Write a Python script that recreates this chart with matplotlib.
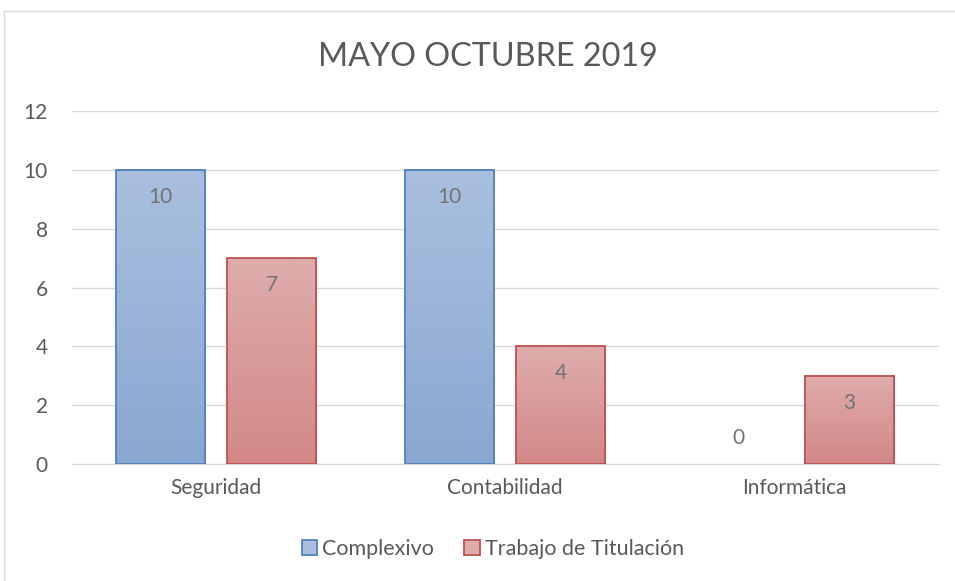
import numpy as np
import matplotlib
matplotlib.use('Agg')
import matplotlib.pyplot as plt
from matplotlib.patches import Rectangle
from matplotlib.colors import LinearSegmentedColormap

categories = ["Seguridad", "Contabilidad", "Informática"]
complexivo = [10, 10, 0]
titulacion = [7, 4, 3]
series_names = ["Complexivo", "Trabajo de Titulación"]

plt.rcParams['font.family'] = ['Lato', 'DejaVu Sans']
TXT = "#595959"
LBL = "#737373"

fig = plt.figure(figsize=(9.55, 5.81), dpi=100)
# outer chart border
fig.patches.append(Rectangle((4 / 955, -0.05), 1.1, (581 - 11) / 581 + 0.05,
                             transform=fig.transFigure, fill=False,
                             edgecolor="#d9d9d9", linewidth=1))
ax = fig.add_axes([71.5 / 955, 1 - 464 / 581, 867 / 955, 353 / 581])

x = np.arange(len(categories))
w = 0.308
off = 0.192

styles = [
    ("#4F81BD", ["#8AA7D2", "#AABFDE"]),
    ("#C0504D", ["#D38888", "#DFACAC"]),
]

for vals, dx, (edge, grad) in zip([complexivo, titulacion], [-off, off], styles):
    cmap = LinearSegmentedColormap.from_list("g", grad)
    for xi, v in zip(x, vals):
        if v <= 0:
            continue
        left = xi + dx - w / 2
        img = np.linspace(0, 1, 100).reshape(-1, 1)
        ax.imshow(img, cmap=cmap, origin='lower', aspect='auto',
                  extent=[left, left + w, 0, v], zorder=2)
        ax.add_patch(Rectangle((left, 0), w, v, fill=False, edgecolor=edge,
                               linewidth=1.3, zorder=3))

for vals, dx in zip([complexivo, titulacion], [-off, off]):
    for xi, v in zip(x, vals):
        if v > 0:
            ax.text(xi + dx, v - 0.92, str(v), ha='center', va='center',
                    fontsize=15, color=LBL, zorder=4)
        else:
            ax.text(xi + dx, v + 0.88, str(v), ha='center', va='center',
                    fontsize=15, color=LBL, zorder=4)

ax.set_xlim(-0.5, 2.5)
ax.set_ylim(0, 12)
ax.set_yticks(range(0, 13, 2))
ax.set_xticks(x)
ax.set_xticklabels(categories)
ax.grid(axis='y', color="#d9d9d9", linewidth=1, zorder=0)
ax.set_axisbelow(True)
for s in ['top', 'right', 'left']:
    ax.spines[s].set_visible(False)
ax.spines['bottom'].set_color("#d9d9d9")
ax.tick_params(axis='both', length=0, labelsize=15, colors=TXT)
ax.tick_params(axis='x', pad=10)
ax.tick_params(axis='y', pad=17)

fig.text(488 / 955, 1 - 57 / 581, "MAYO OCTUBRE 2019", ha='center', va='center',
         fontsize=23.3, color=TXT)

handles = [Rectangle((0, 0), 1, 1, facecolor=g[1], edgecolor=e, linewidth=1.3)
           for e, g in styles]
leg = fig.legend(handles, series_names, loc='center', ncol=2,
                 bbox_to_anchor=(493 / 955, 1 - 549 / 581), frameon=False,
                 fontsize=15.5, handlelength=0.7, handleheight=0.7,
                 handletextpad=0.25, columnspacing=1.4)
for t in leg.get_texts():
    t.set_color(TXT)

fig.savefig("out.png", dpi=100)
